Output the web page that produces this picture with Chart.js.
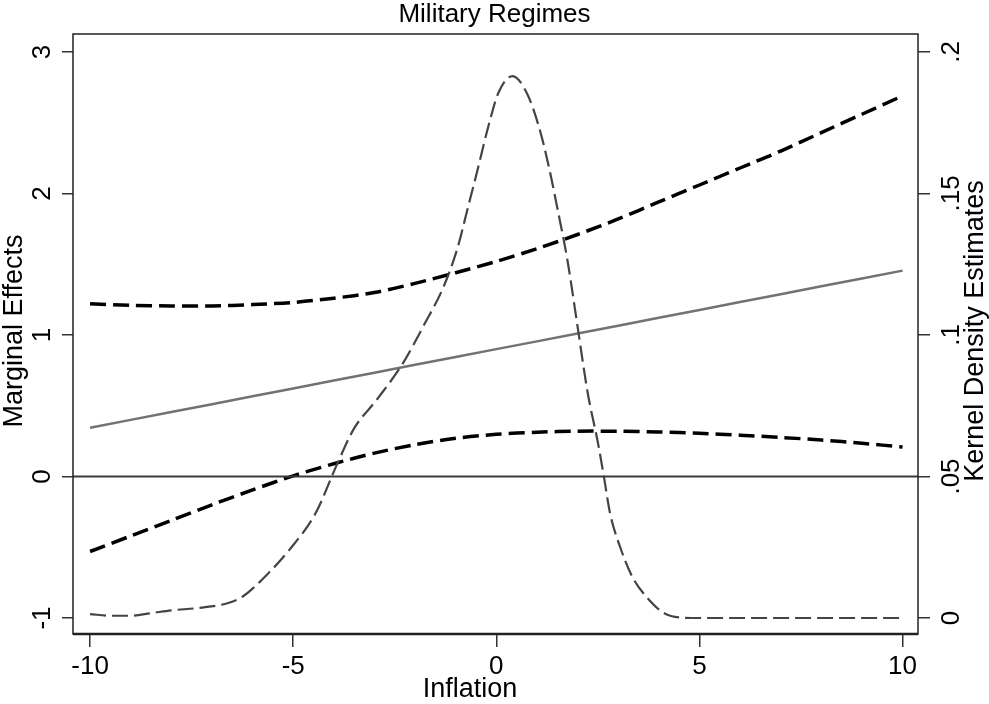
<!DOCTYPE html>
<html lang="en">
<head>
    <meta charset="UTF-8">
    <title>Military Regimes</title>
    <style>
        body {
            margin: 0;
            background: #ffffff;
        }
        #chartBox {
            width: 989px;
            height: 704px;
        }
    </style>
    <script src="https://cdn.jsdelivr.net/npm/chart.js"></script>
</head>
<body>
    <div id="chartBox">
        <canvas id="effectsChart" width="989" height="704"></canvas>
    </div>
    <script>
        // Marginal effect of military regime over inflation, with 95% bounds
        const inflation = [-10, -9, -8, -7, -6, -5, -4, -3, -2, -1, 0, 1, 2, 3, 4, 5, 6, 7, 8, 9, 10];
        const effect = [0.345, 0.4, 0.456, 0.511, 0.567, 0.622, 0.678, 0.733, 0.789, 0.844, 0.9, 0.955, 1.011, 1.066, 1.122, 1.177, 1.233, 1.288, 1.344, 1.399, 1.455];
        const upperBound = [1.22, 1.21, 1.205, 1.205, 1.215, 1.23, 1.26, 1.3, 1.365, 1.44, 1.52, 1.61, 1.71, 1.82, 1.94, 2.06, 2.18, 2.3, 2.43, 2.56, 2.69];
        const lowerBound = [-0.53, -0.42, -0.31, -0.2, -0.095, 0.005, 0.09, 0.165, 0.225, 0.27, 0.298, 0.313, 0.32, 0.32, 0.315, 0.305, 0.292, 0.276, 0.258, 0.235, 0.208];

        // Kernel density of inflation (right axis)
        const densityX = [-10, -9.5, -9, -8.5, -8, -7.3, -6.6, -6.25, -5.6, -5.1, -4.45, -3.9, -3.5, -2.95, -2.3, -1.8, -1.3, -0.95, -0.7, -0.45, -0.2, 0.05, 0.4, 0.75, 1.05, 1.3, 1.5, 1.75, 2.0, 2.25, 2.5, 2.65, 2.8, 3.05, 3.35, 3.7, 4.1, 4.5, 5, 10];
        const densityY = [0.0014, 0.0008, 0.0008, 0.0017, 0.0027, 0.0036, 0.0053, 0.0075, 0.016, 0.024, 0.037, 0.055, 0.067, 0.077, 0.09, 0.103, 0.117, 0.131, 0.145, 0.159, 0.1735, 0.1855, 0.1915, 0.1855, 0.1735, 0.159, 0.145, 0.1265, 0.103, 0.0795, 0.062, 0.0498, 0.037, 0.025, 0.0145, 0.0074, 0.002, 0.0002, 0, 0];

        const xTicks = [-10, -5, 0, 5, 10];
        const leftTicks = [-1, 0, 1, 2, 3];
        const leftTickLabels = ['-1', '0', '1', '2', '3'];
        const rightTicks = [0, 0.05, 0.1, 0.15, 0.2];
        const rightTickLabels = ['0', '.05', '.1', '.15', '.2'];

        const xRange = [-10.42, 10.38];
        const leftRange = [-1.113, 3.127];
        // right axis lines up with the left one: 0 at -1, .2 at 3
        const rightRange = leftRange.map(v => (v + 1) * 0.05);

        const FONT = '"Liberation Sans", Arial, sans-serif';

        function points(xs, ys) {
            return xs.map((x, i) => ({ x: x, y: ys[i] }));
        }

        function setTicks(values) {
            return scale => { scale.ticks = values.map(v => ({ value: v })); };
        }

        function rotatedText(ctx, text, x, y) {
            ctx.save();
            ctx.translate(x, y);
            ctx.rotate(-Math.PI / 2);
            ctx.fillText(text, 0, 0);
            ctx.restore();
        }

        // frame, tick labels and axis titles drawn the Stata way
        const stataAxes = {
            id: 'stataAxes',
            afterDraw(chart) {
                const ctx = chart.ctx;
                const area = chart.chartArea;
                const sx = chart.scales.x;
                const sl = chart.scales.yLeft;
                const sr = chart.scales.yRight;
                const midY = (area.top + area.bottom) / 2 - 3;

                ctx.save();
                ctx.strokeStyle = '#222';
                ctx.lineWidth = 1.5;
                ctx.strokeRect(area.left, area.top, area.right - area.left, area.bottom - area.top);
                ctx.lineWidth = 2.5;
                ctx.beginPath();
                ctx.moveTo(area.left, area.bottom);
                ctx.lineTo(area.right, area.bottom);
                ctx.stroke();

                ctx.fillStyle = '#000';
                ctx.textAlign = 'center';
                ctx.textBaseline = 'middle';

                ctx.font = '26px ' + FONT;
                xTicks.forEach(v => ctx.fillText(String(v), sx.getPixelForValue(v), 667));
                leftTicks.forEach((v, i) => rotatedText(ctx, leftTickLabels[i], 43, sl.getPixelForValue(v)));
                rightTicks.forEach((v, i) => rotatedText(ctx, rightTickLabels[i], 952, sr.getPixelForValue(v)));

                ctx.font = '27px ' + FONT;
                ctx.fillText('Inflation', 470, 690);
                rotatedText(ctx, 'Marginal Effects', 15, midY);
                rotatedText(ctx, 'Kernel Density Estimates', 976, midY);
                ctx.restore();
            }
        };

        const tickGrid = len => ({
            display: true,
            drawOnChartArea: false,
            drawTicks: true,
            tickLength: len,
            color: '#333',
            lineWidth: 1.5
        });

        new Chart(document.getElementById('effectsChart'), {
            type: 'line',
            data: {
                datasets: [
                    {
                        label: 'zero',
                        data: points(xRange, [0, 0]),
                        yAxisID: 'yLeft',
                        borderColor: '#3a3a3a',
                        borderWidth: 2,
                        pointRadius: 0
                    },
                    {
                        label: 'Kernel density',
                        data: points(densityX, densityY),
                        yAxisID: 'yRight',
                        borderColor: '#444444',
                        borderWidth: 2.2,
                        borderDash: [16, 6],
                        cubicInterpolationMode: 'monotone',
                        pointRadius: 0
                    },
                    {
                        label: 'Marginal effect',
                        data: points(inflation, effect),
                        yAxisID: 'yLeft',
                        borderColor: '#727272',
                        borderWidth: 2.5,
                        pointRadius: 0
                    },
                    {
                        label: 'Upper bound',
                        data: points(inflation, upperBound),
                        yAxisID: 'yLeft',
                        borderColor: '#000000',
                        borderWidth: 3.5,
                        borderDash: [16, 7],
                        tension: 0.3,
                        pointRadius: 0
                    },
                    {
                        label: 'Lower bound',
                        data: points(inflation, lowerBound),
                        yAxisID: 'yLeft',
                        borderColor: '#000000',
                        borderWidth: 3.5,
                        borderDash: [16, 7],
                        tension: 0.3,
                        pointRadius: 0
                    }
                ]
            },
            options: {
                responsive: false,
                animation: false,
                devicePixelRatio: 1,
                layout: { padding: 0 },
                plugins: {
                    legend: { display: false },
                    tooltip: { enabled: false },
                    title: {
                        display: true,
                        text: 'Military Regimes',
                        color: '#000',
                        font: { family: FONT, size: 26, weight: 'normal', lineHeight: 1 },
                        padding: { top: 2, bottom: 6 }
                    }
                },
                scales: {
                    x: {
                        type: 'linear',
                        min: xRange[0],
                        max: xRange[1],
                        afterBuildTicks: setTicks(xTicks),
                        afterFit: s => { s.height = 70; },
                        ticks: { display: false },
                        grid: tickGrid(13),
                        border: { display: false }
                    },
                    yLeft: {
                        type: 'linear',
                        position: 'left',
                        min: leftRange[0],
                        max: leftRange[1],
                        afterBuildTicks: setTicks(leftTicks),
                        afterFit: s => { s.width = 73; },
                        ticks: { display: false },
                        grid: tickGrid(11),
                        border: { display: false }
                    },
                    yRight: {
                        type: 'linear',
                        position: 'right',
                        min: rightRange[0],
                        max: rightRange[1],
                        afterBuildTicks: setTicks(rightTicks),
                        afterFit: s => { s.width = 71; },
                        ticks: { display: false },
                        grid: tickGrid(12),
                        border: { display: false }
                    }
                }
            },
            plugins: [stataAxes]
        });
    </script>
</body>
</html>
